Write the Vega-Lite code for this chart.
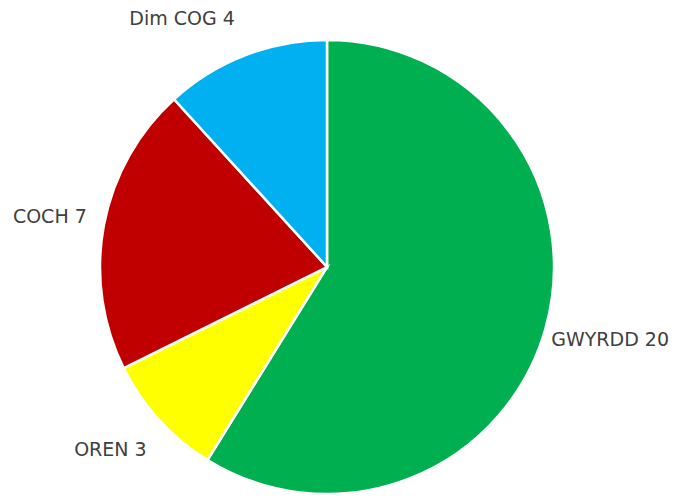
{
  "$schema": "https://vega.github.io/schema/vega-lite/v6.json",
  "width": 654,
  "height": 466,
  "autosize": "none",
  "padding": {"left": 0, "top": 34, "right": 28, "bottom": 0},
  "background": "white",
  "data": {"values": [
    {"name": "GWYRDD", "value": 20, "rank": 1, "label": "GWYRDD 20"},
    {"name": "OREN", "value": 3, "rank": 2, "label": "OREN 3"},
    {"name": "COCH", "value": 7, "rank": 3, "label": "COCH 7"},
    {"name": "Dim COG", "value": 4, "rank": 4, "label": "Dim COG 4"}
  ]},
  "encoding": {
    "theta": {"field": "value", "type": "quantitative", "stack": true},
    "order": {"field": "rank", "type": "quantitative"},
    "color": {"field": "name", "type": "nominal", "legend": null,
      "scale": {"domain": ["GWYRDD", "OREN", "COCH", "Dim COG"], "range": ["#00B050", "#FFFF00", "#C00000", "#00B0F0"]}}
  },
  "layer": [
    {"mark": {"type": "arc", "outerRadius": 227, "stroke": "white", "strokeWidth": 2.5}},
    {"mark": {"type": "text", "radius": 285, "dx": 9, "dy": -5, "font": "DejaVu Sans", "fontSize": 19},
     "encoding": {"text": {"condition": {"test": "datum.rank === 1", "field": "label"}, "value": ""}, "color": {"value": "#404040"}}},
    {"mark": {"type": "text", "radius": 285, "dx": -6, "dy": -9, "font": "DejaVu Sans", "fontSize": 19},
     "encoding": {"text": {"condition": {"test": "datum.rank === 2", "field": "label"}, "value": ""}, "color": {"value": "#404040"}}},
    {"mark": {"type": "text", "radius": 285, "dx": 3, "dy": 2, "font": "DejaVu Sans", "fontSize": 19},
     "encoding": {"text": {"condition": {"test": "datum.rank === 3", "field": "label"}, "value": ""}, "color": {"value": "#404040"}}},
    {"mark": {"type": "text", "radius": 285, "dx": -42, "dy": 18, "font": "DejaVu Sans", "fontSize": 19},
     "encoding": {"text": {"condition": {"test": "datum.rank === 4", "field": "label"}, "value": ""}, "color": {"value": "#404040"}}}
  ]
}
